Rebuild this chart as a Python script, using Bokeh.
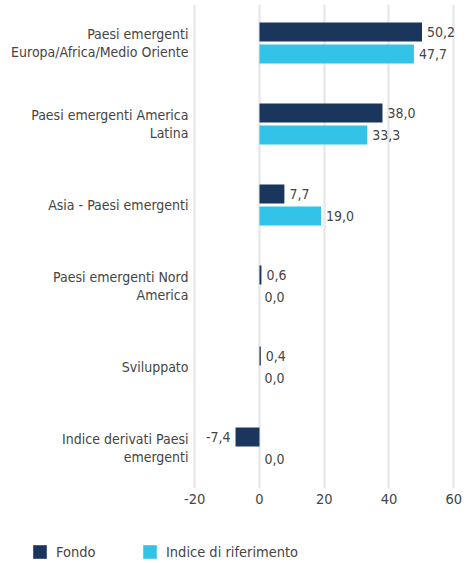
from bokeh.plotting import figure
from bokeh.models import ColumnDataSource, Range1d, FixedTicker, Legend, LegendItem
from bokeh.core.properties import value
from bokeh.embed import file_html
from bokeh.resources import INLINE

categories = [
    "Paesi emergenti\nEuropa/Africa/Medio Oriente",
    "Paesi emergenti America\nLatina",
    "Asia - Paesi emergenti",
    "Paesi emergenti Nord\nAmerica",
    "Sviluppato",
    "Indice derivati Paesi\nemergenti",
]
fondo = [50.2, 38.0, 7.7, 0.6, 0.4, -7.4]
indice = [47.7, 33.3, 19.0, 0.0, 0.0, 0.0]
series_names = ["Fondo", "Indice di riferimento"]
x_ticks = [-20, 0, 20, 40, 60]

FONT = "DejaVu Sans Condensed"
NAVY = "#1b365d"
CYAN = "#33c3e8"
TXT = "#454545"

n = len(categories)
centers = [n - 1 - i for i in range(n)]
off = 0.136
bar_h = 0.235

def fmt(v):
    return f"{v:.1f}".replace(".", ",")

def make_src(vals, dy):
    return ColumnDataSource(dict(
        y=[c + dy for c in centers],
        right=vals,
        lx=vals,
        lbl=[fmt(v) for v in vals],
        align=["right" if v < 0 else "left" for v in vals],
        xo=[-5 if v < 0 else 5 for v in vals],
    ))

src_f = make_src(fondo, off)
src_i = make_src(indice, -off)

p = figure(width=472, height=520, output_backend="svg", toolbar_location=None,
           x_range=Range1d(-21, 65.8), y_range=Range1d(-0.5, 5.475),
           min_border_left=191, min_border_right=0, min_border_top=4, min_border_bottom=32)
p.outline_line_color = None

p.hbar(y="y", left=0, right="right", height=bar_h, source=src_f,
       fill_color=NAVY, line_color=None)
p.hbar(y="y", left=0, right="right", height=bar_h, source=src_i,
       fill_color=CYAN, line_color=None)

for s in (src_f, src_i):
    p.text(x="lx", y="y", text="lbl", source=s, x_offset="xo", text_align="align",
           text_baseline="middle", text_font=value(FONT), text_font_size="14px",
           text_color=TXT)

p.xaxis.ticker = FixedTicker(ticks=x_ticks)
p.xaxis.major_label_overrides = {t: str(t) for t in x_ticks}
p.yaxis.ticker = FixedTicker(ticks=centers)
p.yaxis.major_label_overrides = {c: categories[i] for i, c in enumerate(centers)}

for ax in (p.xaxis, p.yaxis):
    ax.axis_line_color = None
    ax.major_tick_line_color = None
    ax.minor_tick_line_color = None
    ax.major_tick_out = 0
    ax.major_tick_in = 0
    ax.major_label_text_font = FONT
    ax.major_label_text_color = TXT
p.xaxis.major_label_text_font_size = "14.5px"
p.xaxis.major_label_standoff = 5
p.yaxis.major_label_text_font_size = "14px"
p.yaxis.major_label_standoff = 3
p.yaxis.major_label_text_line_height = 1.15

p.ygrid.grid_line_color = None
p.xgrid.grid_line_color = "#e9e9e9"
p.xgrid.grid_line_width = 2.5

# legend strip (separate root, so its frame is not aligned with the chart's)
q = figure(width=472, height=43, output_backend="svg", toolbar_location=None,
           x_range=Range1d(1000, 1001), y_range=Range1d(1000, 1001),
           min_border_left=0, min_border_right=0, min_border_top=0, min_border_bottom=0)
q.axis.visible = False
q.grid.visible = False
q.outline_line_color = None
lf = q.hbar(y="y", left=0, right="right", height=bar_h, source=src_f,
            fill_color=NAVY, line_color=None)
li = q.hbar(y="y", left=0, right="right", height=bar_h, source=src_i,
            fill_color=CYAN, line_color=None)

legend = Legend(items=[LegendItem(label=series_names[0], renderers=[lf]),
                       LegendItem(label=series_names[1], renderers=[li])],
                location=(31, 3), orientation="horizontal",
                glyph_width=17, glyph_height=17, label_height=17, label_width=85,
                label_standoff=8, spacing=0, padding=0, margin=0,
                border_line_color=None, background_fill_alpha=0,
                label_text_font=FONT, label_text_font_size="14.5px",
                label_text_color=TXT)
q.add_layout(legend, "center")

open("out.html", "w").write(file_html([p, q], INLINE))
